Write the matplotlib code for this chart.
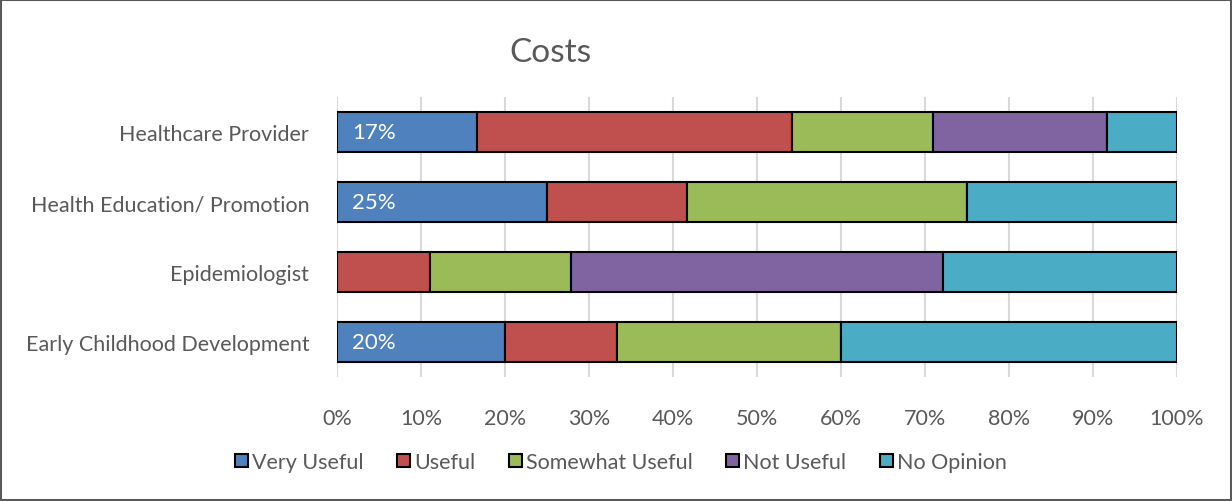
import matplotlib
matplotlib.use("Agg")
import matplotlib.pyplot as plt
from matplotlib.patches import Rectangle
import numpy as np

plt.rcParams['font.family'] = ['Lato', 'DejaVu Sans']

categories = ["Healthcare Provider", "Health Education/ Promotion", "Epidemiologist", "Early Childhood Development"]
series_names = ["Very Useful", "Useful", "Somewhat Useful", "Not Useful", "No Opinion"]
very_useful = [16.7, 25.0, 0.0, 20.0]
useful = [37.5, 16.7, 11.1, 13.3]
somewhat_useful = [16.7, 33.3, 16.7, 26.7]
not_useful = [20.8, 0.0, 44.4, 0.0]
no_opinion = [8.3, 25.0, 27.8, 40.0]
xticks = [0, 10, 20, 30, 40, 50, 60, 70, 80, 90, 100]
xtick_labels = ["0%", "10%", "20%", "30%", "40%", "50%", "60%", "70%", "80%", "90%", "100%"]

colors = ["#4F81BD", "#C0504D", "#9BBB59", "#8064A2", "#4BACC6"]
series = [very_useful, useful, somewhat_useful, not_useful, no_opinion]

fig = plt.figure(figsize=(12.32, 5.02), dpi=100)
ax = fig.add_axes([337/1232, 1-378/502, 840/1232, 280/502])

y = np.arange(len(categories))
left = np.zeros(len(categories))
for name, vals, c in zip(series_names, series, colors):
    vals = np.array(vals)
    bars = ax.barh(y, vals, left=left, height=0.57, color=c, edgecolor="black",
                   linewidth=1.5, label=name, zorder=3)
    if name == "Very Useful":
        for yi, v, l in zip(y, vals, left):
            if v > 0:
                ax.annotate(f"{v:.0f}%", xy=(l, yi), xytext=(11, 0), textcoords="offset points",
                            ha="left", va="center", color="white", fontsize=16, zorder=4)
    left = left + vals

ax.set_xlim(0, 100)
ax.set_ylim(len(categories)-0.5, -0.5)
ax.set_yticks(y)
ax.set_yticklabels(categories, fontsize=15.5, color="#595959")
ax.set_xticks(xticks)
ax.set_xticklabels(xtick_labels, fontsize=15.5, color="#595959")
ax.tick_params(axis="both", length=0)
ax.tick_params(axis="x", pad=22)
ax.tick_params(axis="y", pad=20)
ax.grid(axis="x", color="#D9D9D9", linewidth=1.5, zorder=0)
ax.set_axisbelow(True)
for s in ax.spines.values():
    s.set_visible(False)

fig.text(550/1232, 1-53/502, "Costs", ha="center", va="center", fontsize=24, color="#595959")

leg = ax.legend(loc="center", bbox_to_anchor=(621/1232, 1-463/502), bbox_transform=fig.transFigure,
                ncol=5, frameon=False, fontsize=15.5, handlelength=0.6, handleheight=0.6,
                handletextpad=0.2, columnspacing=1.55)
for t in leg.get_texts():
    t.set_color("#595959")

fig.patches.append(Rectangle((0.0008, 0.002), 0.9984, 0.996, transform=fig.transFigure,
                             fill=False, edgecolor="#595959", linewidth=1.5))

fig.savefig("out.png", dpi=100)
